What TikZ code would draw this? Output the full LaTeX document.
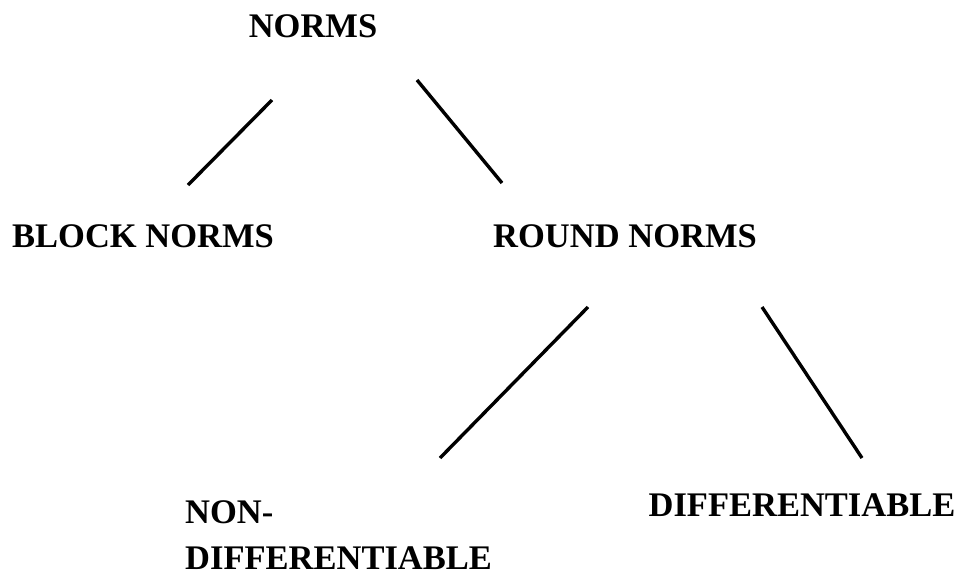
\documentclass[tikz,border=0pt]{standalone}
\usepackage{fontspec}
\setmainfont{Liberation Serif}
\usepackage{tikz}
\usetikzlibrary{positioning}

\begin{document}
\begin{tikzpicture}[
  x=1pt, y=-1pt,
  lbl/.style={inner sep=0pt, font=\fontsize{34.5}{46}\selectfont\bfseries, align=left},
  branch/.style={line width=3.4pt, draw=black}
]
  \useasboundingbox (0,0) rectangle (968,582);
  % labels
  \node[lbl] (norms) at (313,26) {NORMS};
  \node[lbl] (block) at (143,236) {BLOCK NORMS};
  \node[lbl] (round) at (625,236) {ROUND NORMS};
  \node[lbl, anchor=north west] (nondiff) at (185,500) {NON-\\DIFFERENTIABLE};
  \node[lbl] (diff) at (802,505) {DIFFERENTIABLE};
  % branch ends
  \coordinate (norms-l) at (272,100);
  \coordinate (block-t) at (188,185);
  \coordinate (norms-r) at (417,80);
  \coordinate (round-t) at (502,183);
  \coordinate (round-l) at (588,307);
  \coordinate (nondiff-t) at (440,458);
  \coordinate (round-r) at (762,307);
  \coordinate (diff-t) at (862,458);
  \draw[branch] (norms-l) -- (block-t);
  \draw[branch] (norms-r) -- (round-t);
  \draw[branch] (round-l) -- (nondiff-t);
  \draw[branch] (round-r) -- (diff-t);
\end{tikzpicture}
\end{document}
